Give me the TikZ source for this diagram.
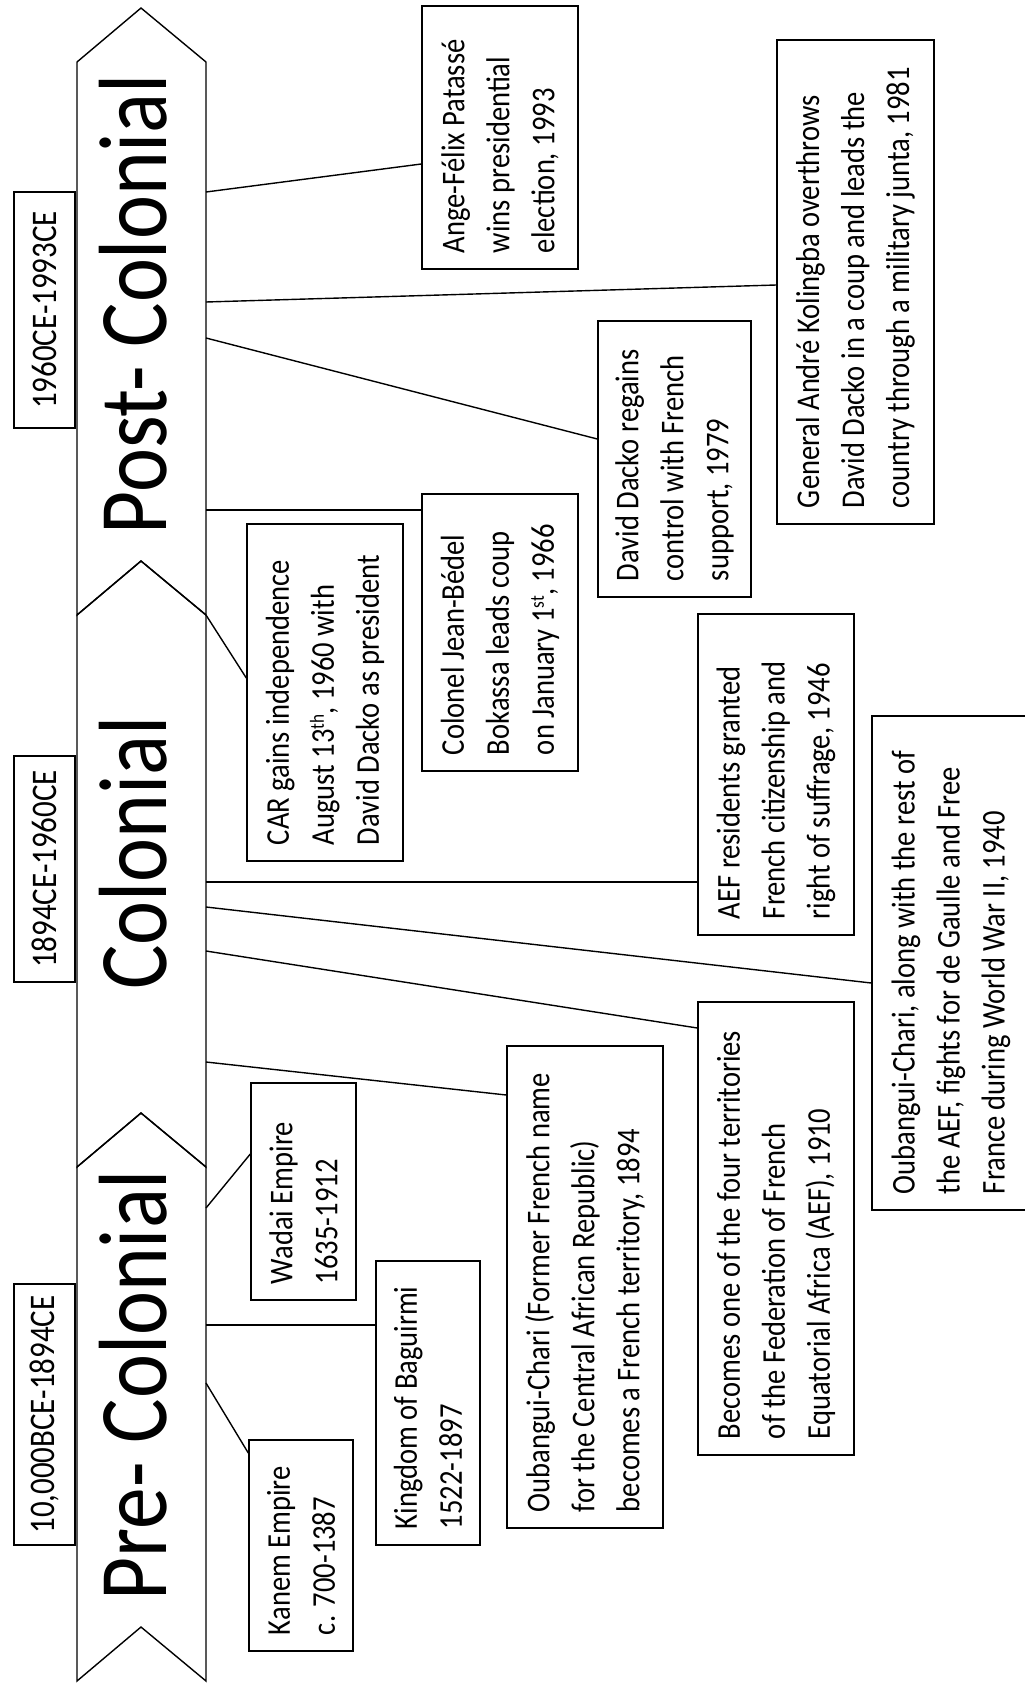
\documentclass[tikz,border=0pt]{standalone}
\usepackage{fontspec}
\setmainfont{Carlito}[FakeStretch=0.86]

\newcommand{\ordsup}[1]{\raisebox{5pt}{\fontsize{10pt}{10pt}\selectfont #1}}

\tikzset{
  event/.style={draw, rotate=90, align=flush left, inner xsep=8pt, inner ysep=0pt,
    font=\fontsize{16.6pt}{22.5pt}\selectfont},
  period/.style={draw, rotate=90, inner sep=0pt,
    font=\fontsize{18pt}{20pt}\selectfont},
  era/.style={rotate=90, anchor=base, inner sep=0pt,
    font=\fontsize{48.5pt}{50pt}\selectfont}
}

\begin{document}
\begin{tikzpicture}[x=0.5pt, y=-0.5pt, line width=0.7pt]

\useasboundingbox (0,0) rectangle (1024,1686);

% banner
\draw (77,62)--(141,8)--(206,62)--(206,615)--(141,561)--(77,615)--cycle;
\draw (77,615)--(141,561)--(206,615)--(206,1167)--(141,1113)--(77,1167)--cycle;
\draw (77,1167)--(141,1113)--(206,1167)--(206,1681)--(141,1627)--(77,1681)--cycle;

\node[era] (post) at (166,304) {Post- Colonial};
\node[era] (colonial) at (166,853) {Colonial};
\node[era] (pre) at (166,1385) {Pre- Colonial};

\node[period, minimum width=118pt, minimum height=30.5pt] (d3) at (44.5,310) {1960CE-1993CE};
\node[period, minimum width=113pt, minimum height=30.5pt] (d2) at (44.5,869) {1894CE-1960CE};
\node[period, minimum width=130.5pt, minimum height=30.5pt] (d1) at (44.5,1414.5) {10,000BCE-1894CE};

% events
\node[event, minimum width=131.5pt, minimum height=78pt, text width=115.5pt] (pat) at (500,137.5)
  {Ange-Félix Patassé\\ wins presidential\\ election, 1993};
\node[event, minimum width=242pt, minimum height=78.5pt, text width=226pt] (kol) at (855.5,282)
  {General André Kolingba overthrows\\ David Dacko in a coup and leads the\\ country through a military junta, 1981};
\node[event, minimum width=138pt, minimum height=76.5pt, text width=122pt] (dac) at (674.5,459)
  {David Dacko regains\\ control with French\\ support, 1979};
\node[event, minimum width=138.5pt, minimum height=78pt, text width=122.5pt] (col) at (500,632.5)
  {Colonel Jean-Bédel\\ Bokassa leads coup\\ on January 1\ordsup{st}, 1966};
\node[event, minimum width=168.5pt, minimum height=78pt, text width=152.5pt] (car) at (325,692.5)
  {CAR gains independence\\ August 13\ordsup{th}, 1960 with\\ David Dacko as president};
\node[event, minimum width=160.5pt, minimum height=78pt, text width=144.5pt] (aef) at (776,774.5)
  {AEF residents granted\\ French citizenship and\\ right of suffrage, 1946};
% runs off the right edge of the page
\node[event, minimum width=247pt, minimum height=79pt, text width=231pt] (ww2) at (951,963)
  {Oubangui-Chari, along with the rest of\\ the AEF, fights for de Gaulle and Free\\ France during World War II, 1940};
\node[event, minimum width=226.5pt, minimum height=78pt, text width=210.5pt] (fed) at (776,1228.5)
  {Becomes one of the four territories\\ of the Federation of French\\ Equatorial Africa (AEF), 1910};
\node[event, minimum width=241pt, minimum height=78pt, text width=225pt] (oub) at (585,1287)
  {Oubangui-Chari (Former French name\\ for the Central African Republic)\\ becomes a French territory, 1894};
\node[event, minimum width=108.5pt, minimum height=52.5pt, text width=92.5pt] (wad) at (303.5,1191.5)
  {Wadai Empire\\ 1635-1912};
\node[event, minimum width=142pt, minimum height=52pt, text width=126pt] (bag) at (428,1403)
  {Kingdom of Baguirmi\\ 1522-1897};
\node[event, minimum width=105.5pt, minimum height=52pt, text width=89.5pt] (kan) at (301,1545.5)
  {Kanem Empire\\ c. 700-1387};

% links from the banner
\coordinate (s1) at (206,192);
\coordinate (s2) at (206,302);
\coordinate (s3) at (206,338);
\coordinate (s4) at (206,510);
\coordinate (s5) at (206,615);
\coordinate (s6) at (206,882);
\coordinate (s7) at (206,907);
\coordinate (s8) at (206,951);
\coordinate (s9) at (206,1062);
\coordinate (s10) at (206,1208);
\coordinate (s11) at (206,1325);
\coordinate (s12) at (206,1383);

\draw (s1) -- (pat.north |- 0,164);
\draw (s2) -- (kol.north |- 0,285);
\draw (s3) -- (dac.north |- 0,439);
\draw (s4) -- (col.north |- s4);
\draw (s5) -- (car.north |- 0,678);
\draw (s6) -- (aef.north |- s6);
\draw (s7) -- (ww2.north |- 0,983);
\draw (s8) -- (fed.north |- 0,1028);
\draw (s9) -- (oub.north |- 0,1095);
\draw (s10) -- (wad.north |- 0,1154);
\draw (s11) -- (bag.north |- s11);
\draw (s12) -- (kan.north |- 0,1453);

\end{tikzpicture}
\end{document}
